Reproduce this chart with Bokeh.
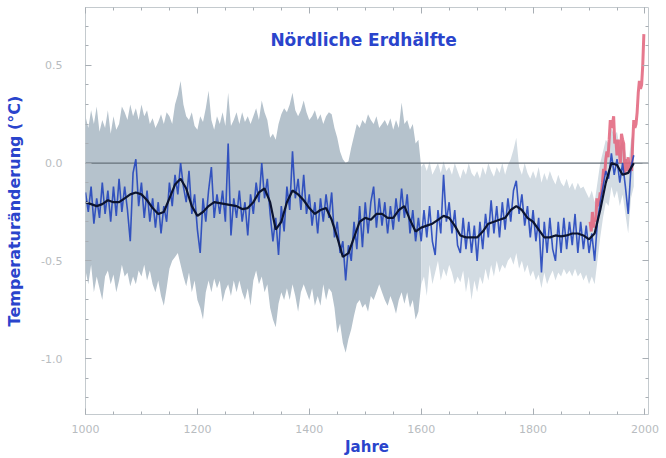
from bokeh.plotting import figure
from bokeh.models import Range1d, FixedTicker, LinearAxis, Span, Label, CustomJSTickFormatter
from bokeh.embed import file_html
from bokeh.resources import INLINE

# ---------------- data ----------------
title_text = "Nördliche Erdhälfte"
ylabel_text = "Temperaturänderung (°C)"
xlabel_text = "Jahre"

x_ticks = [1000, 1200, 1400, 1600, 1800, 2000]
x_minor = [1000 + 50 * i for i in range(21)]
y_ticks = [-1.0, -0.5, 0.0, 0.5]
y_tick_labels = {-1.0: "-1.0", -0.5: "-0.5", 0.0: "0.0", 0.5: "0.5"}
y_minor = [round(-1.2 + 0.1 * i, 1) for i in range(20)]

# annual reconstruction sampled every 5 years, 1000-1980
recon = [
    -0.15, -0.25, -0.12, -0.31, -0.18, -0.28, -0.10, -0.26, -0.14, -0.30, -0.12, -0.27, -0.08, -0.25, -0.12, -0.24, -0.40, -0.05, 0.02, -0.22,
    -0.10, -0.28, -0.14, -0.30, -0.18, -0.33, -0.20, -0.36, -0.22, -0.30, -0.10, -0.22, -0.06, -0.16, 0.00, -0.12, -0.20, -0.04, -0.26, -0.16,
    -0.34, -0.46, -0.18, -0.30, -0.14, -0.02, -0.28, -0.16, -0.26, -0.14, -0.30, 0.10, -0.37, -0.18, -0.28, -0.14, -0.30, -0.20, -0.37, -0.16,
    -0.26, -0.10, -0.20, 0.00, -0.18, -0.08, -0.26, -0.40, -0.28, -0.47, -0.22, -0.35, -0.12, -0.24, 0.06, -0.18, -0.08, -0.24, -0.06, -0.26,
    -0.16, -0.32, -0.20, -0.36, -0.18, -0.30, -0.16, -0.28, -0.15, -0.38, -0.30, -0.46, -0.40, -0.60, -0.42, -0.50, -0.30, -0.44, -0.22, -0.43,
    -0.20, -0.36, -0.20, -0.12, -0.33, -0.18, -0.32, -0.20, -0.36, -0.22, -0.34, -0.18, -0.30, -0.13, -0.28, -0.16, -0.36, -0.24, -0.40, -0.28,
    -0.40, -0.24, -0.38, -0.22, -0.40, -0.47, -0.24, -0.36, -0.06, -0.30, -0.20, -0.36, -0.24, -0.42, -0.46, -0.28, -0.44, -0.30, -0.46, -0.32,
    -0.50, -0.30, -0.44, -0.26, -0.38, -0.19, -0.36, -0.22, -0.38, -0.20, -0.34, -0.18, -0.30, -0.14, -0.09, -0.26, -0.16, -0.32, -0.22, -0.38,
    -0.24, -0.40, -0.28, -0.56, -0.30, -0.46, -0.28, -0.44, -0.50, -0.30, -0.46, -0.28, -0.44, -0.30, -0.42, -0.26, -0.46, -0.30, -0.44, -0.32,
    -0.46, -0.36, -0.50, -0.30, -0.20, -0.12, -0.04, -0.08, 0.05, -0.06, 0.02, -0.10, 0.00, -0.12, -0.26, -0.02, 0.04,
]
band_upper = [
    0.24, 0.18, 0.27, 0.20, 0.29, 0.16, 0.22, 0.18, 0.27, 0.15, 0.24, 0.17, 0.20, 0.29, 0.26, 0.22, 0.30, 0.24, 0.28, 0.22,
    0.30, 0.24, 0.27, 0.20, 0.23, 0.18, 0.21, 0.25, 0.20, 0.26, 0.24, 0.20, 0.30, 0.35, 0.42, 0.30, 0.24, 0.22, 0.26, 0.19,
    0.17, 0.24, 0.21, 0.28, 0.37, 0.22, 0.17, 0.24, 0.20, 0.26, 0.19, 0.36, 0.19, 0.22, 0.26, 0.20, 0.26, 0.21, 0.24, 0.20,
    0.24, 0.28, 0.22, 0.32, 0.26, 0.22, 0.13, 0.15, 0.12, 0.20, 0.25, 0.28, 0.26, 0.30, 0.36, 0.27, 0.24, 0.27, 0.32, 0.26,
    0.22, 0.24, 0.27, 0.22, 0.25, 0.20, 0.24, 0.26, 0.25, 0.18, 0.13, 0.06, 0.02, 0.00, 0.01, 0.08, 0.14, 0.20, 0.18, 0.22,
    0.20, 0.25, 0.22, 0.20, 0.24, 0.18, 0.20, 0.22, 0.19, 0.23, 0.17, 0.22, 0.18, 0.31, 0.20, 0.22, 0.17, 0.20, 0.10, 0.12,
    -0.02, 0.00, -0.04, 0.01, -0.06, -0.03, 0.00, -0.05, 0.01, -0.04, -0.02, -0.06, 0.00, -0.04, -0.08, -0.03, -0.06, 0.00, -0.05, -0.07,
    -0.04, -0.08, -0.02, -0.06, 0.00, -0.04, -0.07, -0.02, -0.05, 0.00, -0.06, -0.01, 0.02, 0.07, 0.13, -0.02, -0.06, 0.00, -0.05, -0.08,
    -0.04, -0.08, -0.02, -0.10, -0.05, -0.09, -0.04, -0.08, -0.11, -0.06, -0.10, -0.12, -0.08, -0.13, -0.10, -0.14, -0.10, -0.13, -0.12, -0.15,
    -0.18, -0.14, -0.20, -0.10, 0.00, 0.06, 0.12, 0.10, 0.18, 0.14, 0.16, 0.08, 0.12, 0.06, -0.02, 0.12, 0.16,
]
band_lower = [
    -0.55, -0.62, -0.52, -0.66, -0.58, -0.64, -0.70, -0.58, -0.55, -0.62, -0.57, -0.66, -0.60, -0.52, -0.58, -0.56, -0.63, -0.58, -0.62, -0.55,
    -0.58, -0.52, -0.60, -0.55, -0.62, -0.66, -0.60, -0.68, -0.73, -0.64, -0.54, -0.50, -0.48, -0.46, -0.52, -0.58, -0.63, -0.56, -0.66, -0.60,
    -0.70, -0.74, -0.80, -0.66, -0.60, -0.66, -0.59, -0.64, -0.60, -0.71, -0.65, -0.62, -0.68, -0.60, -0.66, -0.60, -0.66, -0.70, -0.64, -0.73,
    -0.60, -0.55, -0.62, -0.58, -0.66, -0.62, -0.74, -0.80, -0.84, -0.72, -0.66, -0.70, -0.64, -0.70, -0.62, -0.68, -0.76, -0.66, -0.62, -0.66,
    -0.70, -0.64, -0.73, -0.68, -0.73, -0.62, -0.70, -0.64, -0.66, -0.74, -0.87, -0.82, -0.92, -0.97, -0.90, -0.85, -0.78, -0.72, -0.70, -0.74,
    -0.72, -0.76, -0.68, -0.70, -0.66, -0.62, -0.66, -0.70, -0.73, -0.68, -0.72, -0.77, -0.70, -0.66, -0.72, -0.66, -0.74, -0.70, -0.80, -0.76,
    -0.62, -0.58, -0.68, -0.52, -0.62, -0.56, -0.50, -0.60, -0.54, -0.58, -0.52, -0.56, -0.62, -0.58, -0.61, -0.55, -0.66, -0.58, -0.70, -0.60,
    -0.66, -0.58, -0.62, -0.54, -0.60, -0.52, -0.58, -0.50, -0.56, -0.52, -0.54, -0.50, -0.48, -0.52, -0.46, -0.54, -0.50, -0.56, -0.52, -0.58,
    -0.55, -0.60, -0.57, -0.64, -0.56, -0.62, -0.58, -0.55, -0.60, -0.56, -0.58, -0.54, -0.57, -0.55, -0.58, -0.54, -0.58, -0.56, -0.60, -0.57,
    -0.62, -0.58, -0.62, -0.50, -0.38, -0.28, -0.20, -0.22, -0.12, -0.18, -0.14, -0.22, -0.16, -0.26, -0.36, -0.18, -0.12,
]
years5 = [1000 + 5 * i for i in range(len(recon))]

# 40-year smoothed reconstruction, every 10 years, 1000-1980
smooth = [
    -0.20, -0.21, -0.22, -0.21, -0.19, -0.20, -0.20, -0.18, -0.16, -0.15,
    -0.16, -0.19, -0.23, -0.26, -0.25, -0.18, -0.11, -0.08, -0.13, -0.22,
    -0.27, -0.25, -0.22, -0.20, -0.205, -0.21, -0.215, -0.22, -0.235, -0.23,
    -0.20, -0.15, -0.13, -0.20, -0.34, -0.30, -0.20, -0.14, -0.16, -0.19,
    -0.23, -0.26, -0.24, -0.23, -0.29, -0.38, -0.48, -0.46, -0.38, -0.30,
    -0.28, -0.29, -0.26, -0.26, -0.28, -0.28, -0.24, -0.22, -0.29, -0.35,
    -0.33, -0.32, -0.31, -0.29, -0.27, -0.28, -0.32, -0.37, -0.38, -0.38,
    -0.38, -0.35, -0.31, -0.30, -0.29, -0.28, -0.24, -0.22, -0.24, -0.28,
    -0.30, -0.34, -0.38, -0.38, -0.37, -0.375, -0.37, -0.36, -0.36, -0.37,
    -0.39, -0.36, -0.24, -0.10, 0.00, -0.01, -0.06, -0.05, 0.00,
]
years10 = [1000 + 10 * i for i in range(len(smooth))]

# instrumental record, every 2 years, 1902-1998
instr = [
    -0.30, -0.35, -0.25, -0.33, -0.28, -0.30, -0.18, -0.22, -0.20, -0.15,
    -0.16, -0.10, -0.03, -0.06, 0.02, 0.06, 0.03, 0.12, 0.22, 0.18,
    0.20, 0.24, 0.10, 0.12, 0.04, 0.12, 0.06, 0.00, 0.15, 0.12,
    0.10, -0.06, 0.02, -0.04, 0.03, -0.05, -0.02, -0.04, 0.10, 0.22,
    0.18, 0.20, 0.26, 0.36, 0.42, 0.38, 0.40, 0.50, 0.66,
]
years_instr = [1902 + 2 * i for i in range(len(instr))]

split = years5.index(1600)

# ---------------- figure ----------------
p = figure(width=666, height=458, output_backend="svg", toolbar_location=None,
           x_range=Range1d(1000, 2006.3), y_range=Range1d(-1.286, 0.796),
           min_border_left=85, min_border_right=18, min_border_top=7, min_border_bottom=43,
           x_axis_type=None, y_axis_type=None)
p.background_fill_color = "white"
p.border_fill_color = "white"
p.outline_line_color = "#c4cace"
p.outline_line_width = 1
p.grid.visible = False

tick_col = "#a8aeb4"
lab_col = "#b8bcc0"
blue_txt = "#2a44cc"
empty_fmt = CustomJSTickFormatter(code="return ''")

def style_axis(ax, show_labels):
    ax.axis_line_color = None
    ax.major_tick_in = 6
    ax.major_tick_out = 0
    ax.minor_tick_in = 3
    ax.minor_tick_out = 0
    ax.major_tick_line_color = tick_col
    ax.minor_tick_line_color = tick_col
    if show_labels:
        ax.major_label_text_color = lab_col
        ax.major_label_text_font = "DejaVu Sans"
        ax.major_label_text_font_size = "11px"
        ax.axis_label_text_font = "DejaVu Sans"
        ax.axis_label_text_font_style = "bold"
        ax.axis_label_text_color = blue_txt
    else:
        ax.formatter = empty_fmt
        ax.major_label_standoff = 0

xt = FixedTicker(ticks=x_ticks, minor_ticks=x_minor)
yt = FixedTicker(ticks=y_ticks, minor_ticks=y_minor)

xb = LinearAxis(ticker=xt)
style_axis(xb, True)
xb.major_label_standoff = 10
xb.axis_label = xlabel_text
xb.axis_label_text_font_size = "15px"
xb.axis_label_standoff = 2
p.add_layout(xb, "below")

xa = LinearAxis(ticker=xt)
style_axis(xa, False)
p.add_layout(xa, "above")

yl = LinearAxis(ticker=yt, major_label_overrides=y_tick_labels)
style_axis(yl, True)
yl.major_label_standoff = 23
yl.axis_label = ylabel_text
yl.axis_label_text_font_size = "16px"
yl.axis_label_standoff = 14
p.add_layout(yl, "left")

yr = LinearAxis(ticker=yt)
style_axis(yr, False)
p.add_layout(yr, "right")

# uncertainty band
b1 = p.varea(x=years5[:split + 1], y1=band_lower[:split + 1], y2=band_upper[:split + 1],
             fill_color="#b5c2cc")
b2 = p.varea(x=years5[split:], y1=band_lower[split:], y2=band_upper[split:],
             fill_color="#d3dce3")
b1.level = "image"
b2.level = "image"

zero = Span(location=0, dimension="width", line_color="#66707a", line_width=1.2, level="underlay")
p.add_layout(zero)

p.line(years_instr, instr, line_color="#e2627a", line_width=3, line_alpha=0.85)
p.line(years5, recon, line_color="#2446bd", line_width=1.6, line_alpha=0.9)
p.line(years10, smooth, line_color="#0c1430", line_width=2.2)

p.add_layout(Label(x=1497, y=0.632, text=title_text, text_align="center", text_baseline="middle",
                   text_font="DejaVu Sans", text_font_style="bold", text_font_size="17px",
                   text_color=blue_txt))

open("out.html", "w").write(file_html(p, INLINE))
